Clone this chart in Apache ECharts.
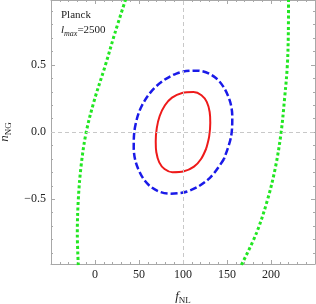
<!DOCTYPE html>
<html>
<head>
<meta charset="utf-8">
<script src="https://cdn.jsdelivr.net/npm/echarts@6/dist/echarts.min.js"></script>
<style>html,body{margin:0;padding:0;background:#fff}#c{width:316px;height:304px}</style>
</head>
<body>
<div id="c"></div>
<script>
// Data
const xTickLabels = [0, 50, 100, 150, 200];
const yTickLabels = [-0.5, 0, 0.5];
const yMinorTicks = [-0.9,-0.8,-0.7,-0.6,-0.5,-0.4,-0.3,-0.2,-0.1,0,0.1,0.2,0.3,0.4,0.5,0.6,0.7,0.8,0.9];

// red contour (solid), closed loop
const redF = [126.5, 120.5, 112.5, 101, 88, 79, 73, 69.7, 69, 70.2, 73.5, 79.5, 87.5, 99, 112, 121, 127, 130.3, 131, 129.8, 126.5];
const redN = [-0.12, -0.2, -0.257, -0.292, -0.299, -0.275, -0.225, -0.15, -0.07, 0.03, 0.12, 0.2, 0.257, 0.292, 0.299, 0.275, 0.225, 0.15, 0.07, -0.03, -0.12];

// blue contour (dashed), closed loop
const blueF = [146.5, 130.3, 107.5, 84.5, 63, 49, 44, 45.5, 53.5, 69.7, 92.5, 115.5, 137, 151, 156, 154.5, 146.5];
const blueN = [-0.2, -0.342, -0.436, -0.458, -0.405, -0.273, -0.112, 0.038, 0.2, 0.342, 0.436, 0.458, 0.405, 0.273, 0.112, -0.038, -0.2];

// green contour (dotted), two visible branches
const greenLeftF = [34.9, 22.7, 11.4, -0.6, -10.2, -15.9, -19, -20.1, -19];
const greenLeftN = [0.99, 0.739, 0.49, 0.241, -0.007, -0.257, -0.505, -0.754, -0.99];

const greenRightF = [219.9, 219.7, 218.5, 215.3, 211.4, 205.1, 196, 183.5, 166.3];
const greenRightN = [0.99, 0.739, 0.49, 0.241, -0.007, -0.26, -0.505, -0.751, -0.99];

const refX = 100, refY = 0;

function pts(a, b) { return a.map((v, i) => [v, b[i]]); }

const chart = echarts.init(document.getElementById('c'));
const serif = '"Liberation Serif", "DejaVu Serif", serif';
const axisCol = '#a8a8a8';
const lblStyle = { color: '#222', fontFamily: serif, fontSize: 12 };
const line = { show: true, onZero: false, lineStyle: { color: axisCol, width: 1 } };
const noLine = { show: false, onZero: false };

chart.setOption({
  animation: false,
  grid: { left: 51, right: 1, top: 0, bottom: 40, containLabel: false, outerBoundsMode: 'none' },
  xAxis: [
    {
      type: 'value', min: -50, max: 250, interval: 50, position: 'bottom',
      name: '{i|f}{s|NL}', nameLocation: 'middle', nameGap: 24,
      nameTextStyle: { rich: { i: { fontFamily: serif, fontStyle: 'italic', fontSize: 13, color: '#222' }, s: { fontFamily: serif, fontSize: 9, color: '#222', padding: [8, 0, 0, 0] } } },
      axisLine: line,
      axisTick: { show: true, inside: true, length: 4, lineStyle: { color: axisCol } },
      minorTick: { show: true, splitNumber: 5, length: 2, lineStyle: { color: axisCol } },
      axisLabel: { ...lblStyle, margin: 5, showMinLabel: false, showMaxLabel: false,
        formatter: v => xTickLabels.includes(v) ? String(v) : '' },
      splitLine: { show: false }
    },
    {
      type: 'value', min: -50, max: 250, interval: 50, position: 'top',
      axisLine: line,
      axisTick: { show: true, inside: true, length: 4, lineStyle: { color: axisCol } },
      minorTick: { show: true, splitNumber: 5, length: 2, lineStyle: { color: axisCol } },
      axisLabel: { show: false }, splitLine: { show: false }
    }
  ],
  yAxis: [
    {
      type: 'value', min: -0.982, max: 0.984, position: 'left',
      name: '{i|n}{s|NG}', nameLocation: 'middle', nameGap: 36,
      nameTextStyle: { rich: { i: { fontFamily: serif, fontStyle: 'italic', fontSize: 13, color: '#222' }, s: { fontFamily: serif, fontSize: 9, color: '#222', padding: [8, 0, 0, 0] } } },
      axisLine: line,
      axisTick: { show: true, inside: true, length: 4, customValues: yTickLabels, lineStyle: { color: axisCol } },
      axisLabel: { ...lblStyle, margin: 5, customValues: yTickLabels,
        formatter: v => (v < 0 ? '\u2212' + Math.abs(v).toFixed(1) : v.toFixed(1)) },
      splitLine: { show: false }
    },
    {
      type: 'value', min: -0.982, max: 0.984, position: 'left',
      axisLine: noLine,
      axisTick: { show: true, inside: true, length: 2, customValues: yMinorTicks, lineStyle: { color: axisCol } },
      axisLabel: { show: false }, splitLine: { show: false }
    },
    {
      type: 'value', min: -0.982, max: 0.984, position: 'right',
      axisLine: line,
      axisTick: { show: true, inside: true, length: 4, customValues: yTickLabels, lineStyle: { color: axisCol } },
      axisLabel: { show: false }, splitLine: { show: false }
    },
    {
      type: 'value', min: -0.982, max: 0.984, position: 'right',
      axisLine: noLine,
      axisTick: { show: true, inside: true, length: 2, customValues: yMinorTicks, lineStyle: { color: axisCol } },
      axisLabel: { show: false }, splitLine: { show: false }
    }
  ],
  series: [
    { type: 'line', data: pts(greenLeftF, greenLeftN), smooth: 0.35, showSymbol: false, clip: true,
      lineStyle: { color: '#22e622', width: 3, type: [3, 2.5] },
      markLine: {
        silent: true, symbol: 'none', label: { show: false }, animation: false,
        lineStyle: { color: '#c8c8c8', type: [4, 3], width: 1 },
        data: [{ xAxis: refX }, { yAxis: refY }]
      } },
    { type: 'line', data: pts(greenRightF, greenRightN), smooth: 0.35, showSymbol: false, clip: true,
      lineStyle: { color: '#22e622', width: 3, type: [3, 2.5] } },
    { type: 'line', data: pts(blueF, blueN), smooth: 0.35, showSymbol: false,
      lineStyle: { color: '#1a1ae8', width: 2.5, type: [7, 3] } },
    { type: 'line', data: pts(redF, redN), smooth: 0.35, showSymbol: false,
      lineStyle: { color: '#ee1a1a', width: 2 } }
  ],
  graphic: [
    { type: 'text', left: 61, top: 10, style: { text: 'Planck', font: '11px ' + serif, fill: '#222' } },
    { type: 'text', left: 61, top: 25, style: {
        text: '{i|l}{s|max}{n|=2500}',
        rich: {
          i: { fontFamily: serif, fontStyle: 'italic', fontSize: 11, fill: '#222' },
          s: { fontFamily: serif, fontStyle: 'italic', fontSize: 8, fill: '#222', padding: [6, 0, 0, 0] },
          n: { fontFamily: serif, fontSize: 11, fill: '#222' }
        } } }
  ]
});
</script>
</body>
</html>
